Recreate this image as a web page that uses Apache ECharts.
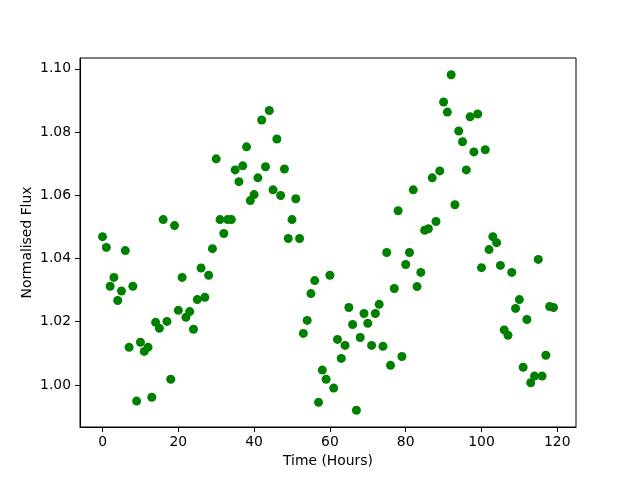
<!DOCTYPE html>
<html>
<head>
<meta charset="utf-8">
<script src="https://cdn.jsdelivr.net/npm/echarts@6/dist/echarts.min.js"></script>
<style>html,body{margin:0;padding:0;background:#fff}#c{width:640px;height:480px}</style>
</head>
<body>
<div id="c"></div>
<script>
var hours = [];
for (var i = 0; i < 120; i++) hours.push(i);
var flux = [
1.0469,1.0435,1.0312,1.0340,1.0267,1.0297,1.0425,1.0119,1.0312,0.9949,
1.0135,1.0106,1.0119,0.9961,1.0198,1.0179,1.0523,1.0201,1.0018,1.0504,
1.0236,1.0340,1.0214,1.0232,1.0176,1.0270,1.0370,1.0277,1.0347,1.0431,
1.0715,1.0523,1.0479,1.0523,1.0523,1.0680,1.0643,1.0693,1.0753,1.0583,
1.0602,1.0655,1.0838,1.0690,1.0868,1.0617,1.0778,1.0599,1.0683,1.0463,
1.0523,1.0589,1.0463,1.0163,1.0204,1.0289,1.0330,0.9945,1.0047,1.0018,
1.0347,0.9990,1.0144,1.0084,1.0125,1.0245,1.0191,0.9920,1.0150,1.0226,
1.0195,1.0125,1.0226,1.0255,1.0122,1.0419,1.0062,1.0305,1.0551,1.0090,
1.0381,1.0419,1.0617,1.0311,1.0356,1.0489,1.0494,1.0655,1.0517,1.0677,
1.0895,1.0863,1.0981,1.0570,1.0803,1.0769,1.0680,1.0848,1.0737,1.0857,
1.0371,1.0744,1.0428,1.0469,1.0450,1.0378,1.0174,1.0157,1.0356,1.0242,
1.0270,1.0056,1.0207,1.0007,1.0028,1.0397,1.0028,1.0094,1.0248,1.0245
];
var xTicks = [0,20,40,60,80,100,120];
var yTicks = [1.00,1.02,1.04,1.06,1.08,1.10];

var pts = hours.map(function(h,i){return [h, flux[i]];});
var font = 'DejaVu Sans';
var chart = echarts.init(document.getElementById('c'), null, {renderer:'canvas'});
chart.setOption({
  animation:false,
  backgroundColor:'#fff',
  grid:{left:80, right:64, top:58, bottom:53, show:true, borderColor:'#000', borderWidth:1, backgroundColor:'transparent'},
  xAxis:{
    type:'value', min:-5.95, max:124.95,
    name:'Time (Hours)', nameLocation:'middle', nameGap:27, nameMoveOverlap:false,
    nameTextStyle:{fontFamily:font, fontSize:13.9, color:'#000'},
    axisLine:{show:true, onZero:false, lineStyle:{color:'#000', width:1}},
    axisTick:{show:true, inside:false, length:5, lineStyle:{color:'#000'}, customValues:xTicks},
    axisLabel:{fontFamily:font, fontSize:13.9, color:'#000', margin:8, customValues:xTicks},
    splitLine:{show:false}
  },
  yAxis:{
    type:'value', min:0.9867, max:1.1034,
    name:'Normalised Flux', nameLocation:'middle', nameGap:46, nameMoveOverlap:false,
    nameTextStyle:{fontFamily:font, fontSize:13.9, color:'#000'},
    axisLine:{show:true, onZero:false, lineStyle:{color:'#000', width:1}},
    axisTick:{show:true, inside:false, length:5, lineStyle:{color:'#000'}, customValues:yTicks},
    axisLabel:{fontFamily:font, fontSize:13.9, color:'#000', margin:9, customValues:yTicks,
      formatter:function(v){return v.toFixed(2);}},
    splitLine:{show:false}
  },
  series:[{
    type:'scatter', data:pts, symbol:'circle', symbolSize:9,
    itemStyle:{color:'#008000', opacity:1}
  }]
});
</script>
</body>
</html>
